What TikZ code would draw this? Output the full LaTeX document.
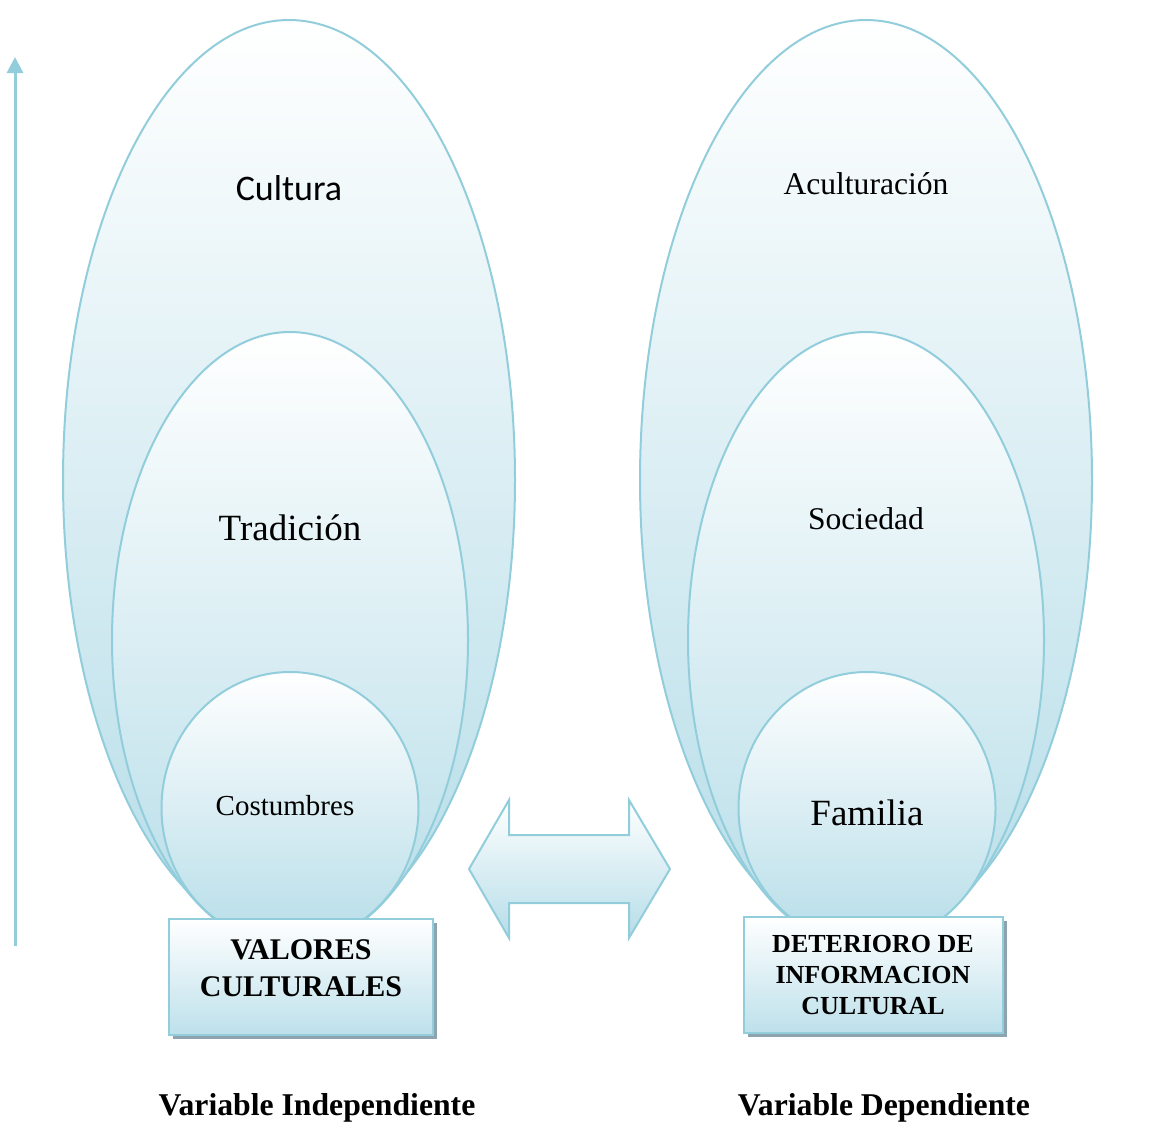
\documentclass[tikz,border=0pt]{standalone}
\usepackage{fontspec}
\setmainfont{Liberation Serif}
\newfontfamily\calibri{Carlito}
\usetikzlibrary{shapes.geometric}
\usetikzlibrary{arrows.meta}
\usetikzlibrary{shadows}
\definecolor{capa}{HTML}{92CDDC}
\definecolor{fondo}{HTML}{B6DDE8}
\definecolor{sombra}{HTML}{8DA3AD}
\tikzset{layer/.style={ellipse, draw=capa, line width=2pt, top color=white, bottom color=fondo, inner sep=0pt}}
\tikzset{varbox/.style={rectangle, draw=capa, line width=2pt, top color=white, bottom color=fondo!90, align=center, inner sep=0pt,
  drop shadow={shadow xshift=4pt, shadow yshift=-4pt, fill=sombra, opacity=1}}}
\tikzset{lbl/.style={anchor=base, inner sep=0pt}}

\begin{document}
\begin{tikzpicture}[x=1pt,y=-1pt]
  \useasboundingbox (0,0) rectangle (1158,1122);
  % nested layers, outer first
  \foreach \name/\x/\y/\w/\h in {
    culturaL/289/480/452/920,
    aculturaR/866/480/452/920,
    tradicionL/290/640/356/616,
    sociedadR/866/640/356/616,
    costumbresL/290/808/257/272,
    familiaR/867/808/257/272%
  } {
    \node[layer, minimum width=\w pt, minimum height=\h pt] (\name) at (\x, \y) {};
  }
  % layer texts
  \node[lbl, font=\calibri\fontsize{36}{40}\selectfont] (cultura) at (289,200) {Cultura};
  \node[lbl, font=\fontsize{37}{40}\selectfont] (tradicion) at (290,540) {Tradición};
  \node[lbl, font=\fontsize{29}{32}\selectfont] (costumbres) at (285,815) {Costumbres};
  \node[lbl, font=\fontsize{31.6}{34}\selectfont] (aculturacion) at (866,194) {Aculturación};
  \node[lbl, font=\fontsize{31.6}{34}\selectfont] (sociedad) at (866,529) {Sociedad};
  \node[lbl, font=\fontsize{37}{40}\selectfont] (familia) at (867,825) {Familia};
  % variable boxes
  \node[varbox, minimum width=264pt, minimum height=116pt, text depth=18pt, font=\bfseries\fontsize{30}{37}\selectfont]
    (valores) at (301,977) {VALORES\\CULTURALES};
  \node[varbox, minimum width=259pt, minimum height=116pt, font=\bfseries\fontsize{26}{31}\selectfont]
    (deterioro) at (873,975) {DETERIORO DE\\INFORMACION\\CULTURAL};
  % relation between both variables
  \draw[capa, line width=2pt, top color=white, bottom color=fondo, line join=miter]
    (469,869) -- (509,800) -- (509,835) -- (629,835) -- (629,800) -- (670,869)
    -- (629,938) -- (629,903) -- (509,903) -- (509,938) -- cycle;
  % level axis
  \coordinate (ejebase) at (15,946);
  \coordinate (ejetope) at (15,57);
  \draw[capa, line width=3pt, -{Triangle[length=16pt,width=16pt]}] (ejebase) -- (ejetope);
  % captions
  \node[lbl, font=\bfseries\fontsize{31.7}{34}\selectfont] (varind) at (317,1115) {Variable Independiente};
  \node[lbl, font=\bfseries\fontsize{31.7}{34}\selectfont] (vardep) at (884,1115) {Variable Dependiente};
\end{tikzpicture}
\end{document}
